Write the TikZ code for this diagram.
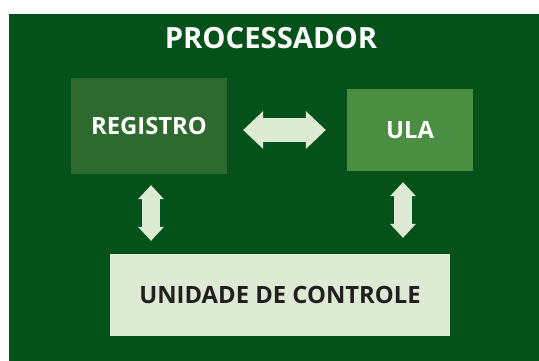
\documentclass[tikz,border=0pt]{standalone}
\usepackage{fontspec}
\setmainfont{Open Sans}
\usetikzlibrary{positioning,arrows.meta}
\definecolor{bgreen}{HTML}{04521A}
\definecolor{regreen}{HTML}{2E6A2F}
\definecolor{ulagreen}{HTML}{4A8E42}
\definecolor{palegreen}{HTML}{DDEBD4}
\definecolor{inkgrey}{HTML}{231F20}
\tikzset{biarrow/.style={draw=palegreen, line width=18pt,
  {Triangle[width=26pt,length=14pt,line width=0pt]}-{Triangle[width=26pt,length=14pt,line width=0pt]}}}

\begin{document}
\begin{tikzpicture}[x=1pt, y=-1pt, box/.style = {inner sep=0pt, font=\fontsize{23.8}{28}\selectfont\bfseries}] 
\useasboundingbox (0,0) rectangle (539,361);
\fill[bgreen] (9,14) rectangle (539,361);
\node[text=white, font=\fontsize{29.2}{34}\selectfont\bfseries] (title) at (271,38) {PROCESSADOR};
\node[box, fill=regreen, text=white, minimum width=156pt, minimum height=96pt] (reg) at (149,126) {REGISTRO};
\node[box, fill=ulagreen, text=white, minimum width=126pt, minimum height=82pt] (ula) at (410,130) {ULA};
\node[box, fill=palegreen, text=inkgrey, minimum width=340pt, minimum height=82pt] (uc) at (280,295) {UNIDADE DE CONTROLE};
% conexoes
\draw[biarrow, line width=24pt,
  {Triangle[width=38pt,length=20pt,line width=0pt]}-{Triangle[width=38pt,length=20pt,line width=0pt]},
  shorten <=16pt, shorten >=21pt] (reg.east |- ula.west) -- (ula.west);
\draw[biarrow, shorten <=11pt, shorten >=13pt] ([xshift=2pt]reg.south) -- ([xshift=2pt]reg.south |- uc.north);
\draw[biarrow, shorten <=11pt, shorten >=16pt] ([xshift=-7pt]ula.south) -- ([xshift=-7pt]ula.south |- uc.north);
\end{tikzpicture}
\end{document}
